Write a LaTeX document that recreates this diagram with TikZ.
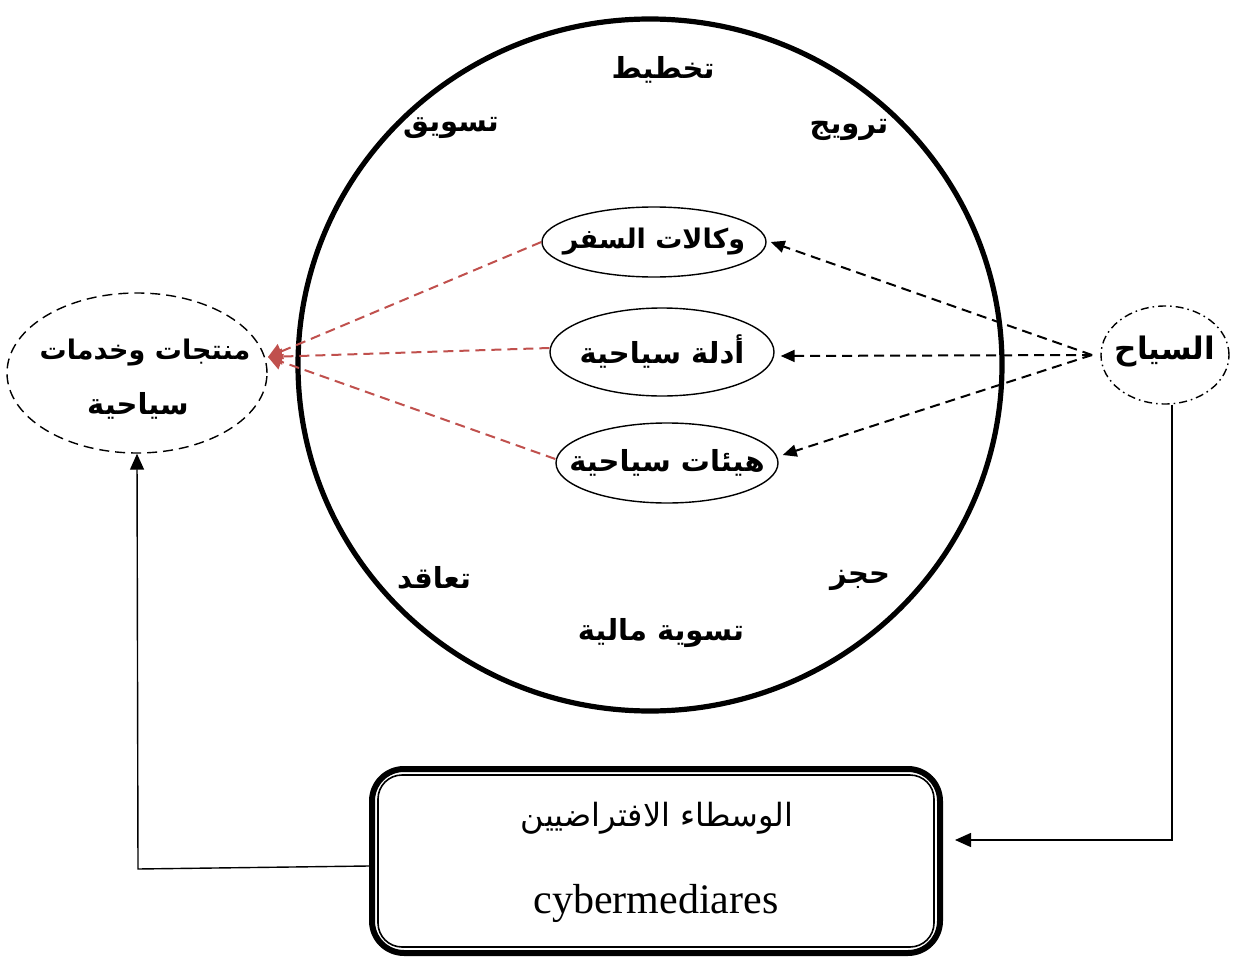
\documentclass[tikz,border=0pt]{standalone}
\usepackage{fontspec}
\setmainfont{Liberation Serif}
\newfontfamily\ar[Script=Arabic]{DejaVu Sans}
\TeXXeTstate=1
\usetikzlibrary{arrows.meta,shapes.geometric}
\definecolor{redl}{HTML}{C0504D}
\begin{document}
\begin{tikzpicture}[x=0.5pt,y=-0.5pt,
  lbl/.style={font=\ar\bfseries\fontsize{14.5}{18}\selectfont, inner sep=0pt},
  slbl/.style={font=\ar\bfseries\fontsize{13.5}{18}\selectfont, inner sep=0pt},
  inell/.style={draw, ellipse, line width=0.7pt, inner sep=0pt},
  blk/.style={draw=black, line width=1pt, dash pattern=on 5pt off 3pt, -{Triangle[length=7pt,width=6pt]}},
  rd/.style={draw=redl, line width=1pt, dash pattern=on 5pt off 3pt, -{Triangle[length=7pt,width=8pt]}},
  arr/.style={draw=black, line width=0.7pt, -{Triangle[length=8pt,width=7pt]}}
]
\useasboundingbox (0,0) rectangle (1239,958);
% big circle
\node[draw, ellipse, line width=2.6pt, minimum width=352pt, minimum height=346pt, inner sep=0pt] (big) at (650,365) {};
% labels around
\node[lbl] (t1) at (663,70) {\beginR تخطيط\endR};
\node[lbl] (t2) at (451,128) {\beginR تسويق\endR};
\node[lbl] (t3) at (849,130) {\beginR ترويج\endR};
\node[lbl] (t4) at (434,578) {\beginR تعاقد\endR};
\node[lbl] (t5) at (860,580) {\beginR حجز\endR};
\node[lbl] (t6) at (661,633) {\beginR تسوية مالية\endR};
% inner ellipses
\node[inell, minimum width=112pt, minimum height=35pt] (e1) at (654,242) {};
\node[slbl] (e1t) at (e1) {\beginR وكالات السفر\endR};
\node[inell, minimum width=112pt, minimum height=44pt] (e2) at (662,352) {};
\node[lbl] (e2t) at (e2) {\beginR أدلة سياحية\endR};
\node[inell, minimum width=111pt, minimum height=40pt] (e3) at (667,463) {};
\node[lbl] (e3t) at (e3) {\beginR هيئات سياحية\endR};
% left ellipse
\node[draw, ellipse, line width=0.7pt, dash pattern=on 5pt off 3pt, minimum width=130pt, minimum height=80pt, inner sep=0pt] (prod) at (137,373) {};
\node[slbl] (prodt1) at (145,353) {\beginR منتجات وخدمات\endR};
\node[lbl] (prodt2) at (138,406) {\beginR سياحية\endR};
% right ellipse
\node[draw, ellipse, line width=0.7pt, dash pattern=on 4pt off 2pt on 0.8pt off 2pt, minimum width=64pt, minimum height=49pt, inner sep=0pt] (siah) at (1165,355) {};
\node[lbl, font=\ar\bfseries\fontsize{15.5}{18}\selectfont] (siaht) at (1165,352) {\beginR السياح\endR};
% box
\node[draw, rounded corners=16pt, line width=3pt, minimum width=284pt, minimum height=92pt] (box) at (656,861) {};
\draw[line width=0.8pt, rounded corners=12pt] ([xshift=4.5pt,yshift=-4.5pt]box.north west) rectangle ([xshift=-4.5pt,yshift=4.5pt]box.south east);
\node[font=\ar\fontsize{16}{18}\selectfont, inner sep=0pt] (boxt1) at (657,818) {\beginR الوسطاء الافتراضيين\endR};
\node[font=\fontsize{21}{24}\selectfont, inner sep=0pt] (boxt2) at (656,903) {cybermediares};
% black dashed arrows
\coordinate (s) at (1092,355);
\draw[blk] (s) -- ([xshift=2pt]e1.east);
\draw[blk] (s) -- ([xshift=3pt,yshift=-2pt]e2.east);
\draw[blk] (s) -- ([xshift=2pt,yshift=4pt]e3.east);
% red dashed arrows
\coordinate (r) at (268,357);
\draw[rd] (e1.west) -- (r);
\draw[rd] (e2.west |- 0,348) -- (r);
\draw[rd] ([yshift=2pt]e3.west) -- (r);
% elbows
\draw[arr] ([xshift=3.5pt]siah.south) |- ([xshift=6pt,yshift=10.5pt]box.east);
\draw[arr] ([yshift=-2.5pt]box.west) -- (138,869) -- (prod.south);
\end{tikzpicture}
\end{document}
